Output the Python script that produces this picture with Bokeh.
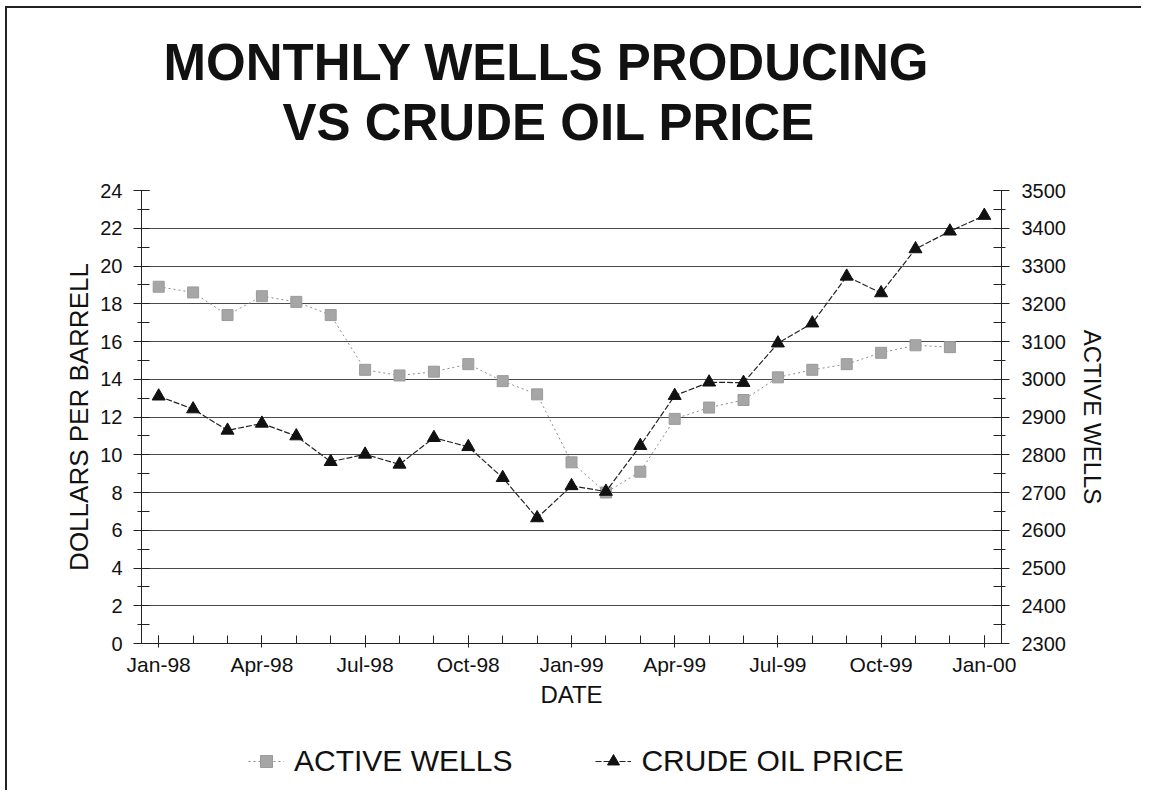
from bokeh.plotting import figure
from bokeh.layouts import column
from bokeh.models import (Range1d, LinearAxis, FixedTicker, Title, Legend, LegendItem)
from bokeh.embed import file_html
from bokeh.resources import INLINE

# ---- data ----
months = ["Jan-98", "Feb-98", "Mar-98", "Apr-98", "May-98", "Jun-98", "Jul-98", "Aug-98",
          "Sep-98", "Oct-98", "Nov-98", "Dec-98", "Jan-99", "Feb-99", "Mar-99", "Apr-99",
          "May-99", "Jun-99", "Jul-99", "Aug-99", "Sep-99", "Oct-99", "Nov-99", "Dec-99",
          "Jan-00"]
crude_price = [13.10, 12.42, 11.29, 11.66, 10.99, 9.63, 10.02, 9.49, 10.90, 10.42,
               8.78, 6.65, 8.35, 8.05, 10.48, 13.13, 13.84, 13.82, 15.91, 16.97,
               19.45, 18.57, 20.90, 21.84, 22.67]
active_wells = [3245, 3230, 3170, 3220, 3205, 3170, 3025, 3010, 3020, 3040, 2995, 2960,
                2780, 2700, 2755, 2895, 2925, 2945, 3005, 3025, 3040, 3070, 3090, 3085]
price_ticks = list(range(0, 25, 2))
wells_ticks = list(range(2300, 3501, 100))
label_months = months[::3]
series_names = ["ACTIVE WELLS", "CRUDE OIL PRICE"]

FONT = "Liberation Sans"

idx_price = list(range(len(crude_price)))
idx_wells = list(range(len(active_wells)))

p = figure(frame_width=860, frame_height=453,
           min_border_left=134, min_border_right=140,
           min_border_top=182, min_border_bottom=75,
           x_range=Range1d(-0.5, len(months) - 0.5), y_range=Range1d(0, 24),
           output_backend="svg", toolbar_location=None,
           background_fill_color="white", border_fill_color="white")
p.outline_line_color = None
p.extra_y_ranges = {"wells": Range1d(2300, 3500)}

# grid
p.xgrid.grid_line_color = None
p.ygrid.ticker = FixedTicker(ticks=price_ticks)
p.ygrid.grid_line_color = "#2a2a2a"
p.ygrid.grid_line_alpha = 0.85
p.ygrid.grid_line_width = 1

AX = "#222222"

# x axis
xa = p.xaxis[0]
xa.ticker = FixedTicker(ticks=list(range(0, len(months), 3)),
                        minor_ticks=list(range(len(months))))
xa.major_label_overrides = {i * 3: lab for i, lab in enumerate(label_months)}
xa.axis_label = "DATE"
xa.axis_label_text_font = FONT
xa.axis_label_text_font_style = "normal"
xa.axis_label_text_font_size = "24px"
xa.axis_label_text_color = "#111111"
xa.axis_label_standoff = 2
xa.major_label_text_font = FONT
xa.major_label_text_font_size = "21px"
xa.major_label_text_color = "#111111"
xa.major_label_standoff = 5
xa.major_tick_in = 8
xa.major_tick_out = 4
xa.minor_tick_in = 8
xa.minor_tick_out = 0
xa.axis_line_color = AX
xa.major_tick_line_color = AX
xa.minor_tick_line_color = AX

# left axis
ya = p.yaxis[0]
ya.ticker = FixedTicker(ticks=price_ticks, minor_ticks=list(range(0, 25)))
ya.axis_label = "DOLLARS PER BARRELL"
ya.axis_label_text_font = FONT
ya.axis_label_text_font_style = "normal"
ya.axis_label_text_font_size = "26px"
ya.axis_label_text_color = "#111111"
ya.axis_label_standoff = 3
ya.major_label_text_font = FONT
ya.major_label_text_font_size = "20px"
ya.major_label_text_color = "#111111"
ya.major_label_standoff = 11
ya.major_tick_in = 8
ya.major_tick_out = 8
ya.minor_tick_in = 8
ya.minor_tick_out = 4
ya.axis_line_color = AX
ya.major_tick_line_color = AX
ya.minor_tick_line_color = AX

# right axis
ra = LinearAxis(y_range_name="wells",
                ticker=FixedTicker(ticks=wells_ticks,
                                   minor_ticks=list(range(2300, 3501, 50))))
ra.axis_label = "ACTIVE WELLS"
ra.axis_label_text_font = FONT
ra.axis_label_text_font_style = "normal"
ra.axis_label_text_font_size = "24px"
ra.axis_label_text_color = "#111111"
ra.axis_label_standoff = 10
ra.major_label_text_font = FONT
ra.major_label_text_font_size = "20px"
ra.major_label_text_color = "#111111"
ra.major_label_standoff = 12
ra.major_tick_in = 8
ra.major_tick_out = 8
ra.minor_tick_in = 8
ra.minor_tick_out = 4
ra.axis_line_color = AX
ra.major_tick_line_color = AX
ra.minor_tick_line_color = AX
p.add_layout(ra, "right")

# series styles
W_LINE = dict(line_color="#8c8c8c", line_width=1, line_dash="2 3")
C_LINE = dict(line_color="#222222", line_width=1.2, line_dash="6 2")

p.line(idx_wells, active_wells, y_range_name="wells", **W_LINE)
p.scatter(idx_wells, active_wells, y_range_name="wells", marker="square",
          size=11, fill_color="#a6a6a6", line_color="#9a9a9a")
p.line(idx_price, crude_price, **C_LINE)
p.scatter(idx_price, crude_price, marker="triangle", size=13,
          fill_color="#111111", line_color="#111111")

# titles (stacked outward from the frame)
spacer = Title(text=" ", text_font=FONT, text_font_size="10px", standoff=26)
t2 = Title(text="VS CRUDE OIL PRICE", align="left", offset=141,
           text_font=FONT, text_font_size="51px", text_font_style="bold",
           text_color="#111111", standoff=1)
t1 = Title(text="MONTHLY WELLS PRODUCING", align="left", offset=22,
           text_font=FONT, text_font_size="51px", text_font_style="bold",
           text_color="#111111", standoff=1)
p.add_layout(spacer, "above")
p.add_layout(t2, "above")
p.add_layout(t1, "above")

# ---- legend strip below the chart (series drawn off-range, only legend shows) ----
lf = figure(width=1134, height=72, min_border=0,
            x_range=Range1d(0, 1), y_range=Range1d(0, 1),
            output_backend="svg", toolbar_location=None,
            background_fill_color="white", border_fill_color="white")
lf.outline_line_color = None
lf.axis.visible = False
lf.grid.visible = False
lw_line = lf.line(idx_wells, active_wells, **W_LINE)
lw_mark = lf.scatter(idx_wells, active_wells, marker="square", size=4,
                     fill_color="#a6a6a6", line_color="#9a9a9a")
lc_line = lf.line(idx_price, crude_price, **C_LINE)
lc_mark = lf.scatter(idx_price, crude_price, marker="triangle", size=11,
                     fill_color="#111111", line_color="#111111")
legend = Legend(items=[LegendItem(label=series_names[0], renderers=[lw_line, lw_mark]),
                       LegendItem(label=series_names[1], renderers=[lc_line, lc_mark])],
                orientation="horizontal", location=(107, 12),
                label_text_font=FONT, label_text_font_size="30px",
                label_text_color="#111111",
                glyph_width=36, glyph_height=30, label_height=30,
                label_standoff=10, spacing=83,
                border_line_color=None, background_fill_alpha=0,
                margin=0, padding=0)
lf.add_layout(legend, "center")

lay = column(p, lf, spacing=0)
lay.styles = {"border-top": "2px solid #222", "border-left": "2px solid #222",
              "margin-top": "6px", "margin-left": "5px"}

open("out.html", "w").write(file_html(lay, INLINE))
